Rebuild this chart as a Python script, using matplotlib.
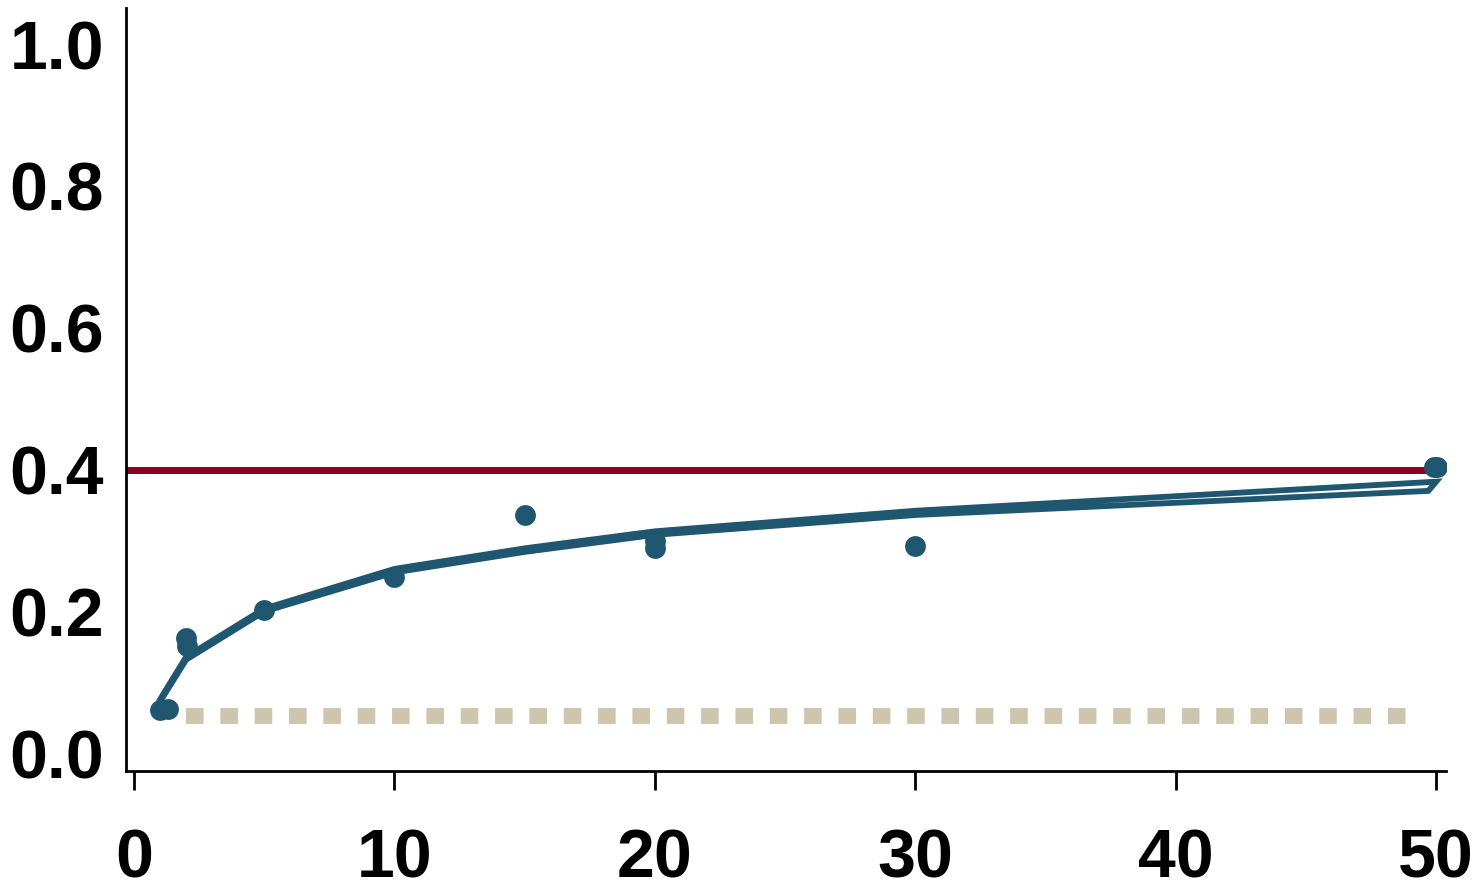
import numpy as np
import matplotlib
matplotlib.use('Agg')
import matplotlib.pyplot as plt

plt.rcParams['font.family'] = ['Liberation Sans', 'DejaVu Sans']
plt.rcParams['font.weight'] = 'bold'

# fitted curve (drawn as a thin closed band: upper edge, then lower edge back)
fit_x_upper = [1, 2, 5, 10, 15, 20, 30, 50]
fit_y_upper = [0.076, 0.136, 0.204, 0.260, 0.289, 0.313, 0.342, 0.383]
fit_x_lower = [49.7, 30, 20, 15, 10, 5, 2, 1]
fit_y_lower = [0.370, 0.336, 0.308, 0.284, 0.255, 0.200, 0.132, 0.073]

# observed points
obs_x = [1, 1.3, 2, 2.05, 5, 10, 15, 20, 20, 30, 49.9, 50.05]
obs_y = [0.061, 0.062, 0.162, 0.151, 0.202, 0.248, 0.336, 0.299, 0.290, 0.292, 0.404, 0.404]

ref_level = 0.4          # red reference line
floor_x = [2, 49]        # beige dotted line
floor_y = [0.052, 0.052]

blue = '#1f5670'
red = '#8b0021'
beige = '#cdc5ac'

fig = plt.figure(figsize=(14.78, 8.91), dpi=100)
ax = fig.add_axes([126/1478, 1 - 771/891, (1446 - 126)/1478, (771 - 8)/891])

ax.plot(floor_x, floor_y, color=beige, lw=11.5, linestyle=(0, (1.1, 1.05)),
        dash_capstyle='butt', zorder=1)
ax.axhline(ref_level, xmin=0, xmax=(50 + 0.31)/(50.38 + 0.31), color=red, lw=5, zorder=2)
ax.plot(fit_x_upper + fit_x_lower, fit_y_upper + fit_y_lower, color=blue, lw=4.2,
        solid_joinstyle='miter', zorder=3)
ax.plot(obs_x, obs_y, 'o', color=blue, markersize=15, markeredgewidth=0, zorder=4)

ax.set_xlim(-0.31, 50.38)
ax.set_ylim(-0.025, 1.051)

for s in ['top', 'right']:
    ax.spines[s].set_visible(False)
for s in ['left', 'bottom']:
    ax.spines[s].set_linewidth(2)

ax.set_xticks([0, 10, 20, 30, 40, 50])
ax.set_yticks([0.0, 0.2, 0.4, 0.6, 0.8, 1.0])
ax.set_yticklabels(['0.0', '0.2', '0.4', '0.6', '0.8', '1.0'])
ax.tick_params(axis='x', length=14, width=2, pad=27, labelsize=49)
ax.tick_params(axis='y', length=0, pad=16, labelsize=49)
ax.set_yticks([0.0], minor=True)
ax.tick_params(axis='y', which='minor', length=9, width=1.5)

fig.savefig('out.png', dpi=100)
